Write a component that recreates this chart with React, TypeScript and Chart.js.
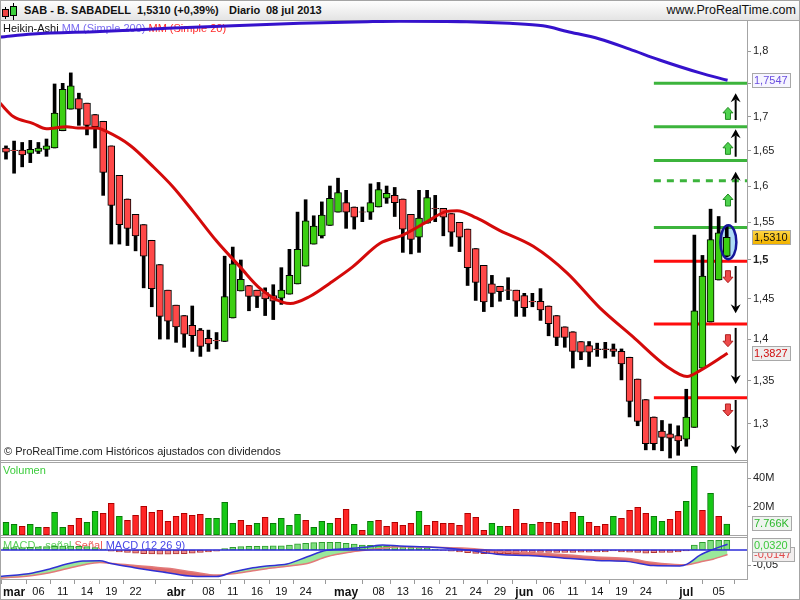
import React, { useEffect, useRef } from 'react';
import { Chart, registerables } from 'chart.js';

Chart.register(...registerables);

const FONT = '"Liberation Sans", Arial, Helvetica, sans-serif';

// ---- Heikin-Ashi candles, one per trading day (28 feb 2013 .. 08 jul 2013) ----
const haOpen = [
  1.654, 1.651, 1.651, 1.646, 1.649, 1.652, 1.654, 1.679, 1.711, 1.727,
  1.720, 1.703, 1.693, 1.657, 1.615, 1.582, 1.561, 1.547, 1.526, 1.494,
  1.461, 1.442, 1.429, 1.417, 1.411, 1.401, 1.3985, 1.397, 1.426, 1.460,
  1.467, 1.461, 1.458, 1.454, 1.451, 1.456, 1.469, 1.492, 1.521, 1.532,
  1.546, 1.564, 1.577, 1.571, 1.5645, 1.564, 1.571, 1.583, 1.587, 1.582,
  1.561, 1.530, 1.549, 1.5690, 1.569, 1.562, 1.550, 1.541, 1.515, 1.493,
  1.469, 1.466, 1.4615, 1.461, 1.454, 1.4468, 1.447, 1.441, 1.429, 1.415,
  1.409, 1.397, 1.392, 1.3880, 1.3880, 1.388, 1.385, 1.378, 1.352, 1.328,
  1.308, 1.292, 1.289, 1.287, 1.283, 1.296, 1.365, 1.421, 1.474, 1.505,
];
const haClose = [
  1.648, 1.6503, 1.644, 1.652, 1.654, 1.657, 1.705, 1.741, 1.746, 1.711,
  1.687, 1.685, 1.619, 1.573, 1.547, 1.542, 1.532, 1.505, 1.463, 1.428,
  1.422, 1.415, 1.406, 1.404, 1.391, 1.394, 1.3978, 1.453, 1.495, 1.475,
  1.453, 1.453, 1.450, 1.447, 1.461, 1.480, 1.514, 1.552, 1.545, 1.560,
  1.583, 1.591, 1.564, 1.557, 1.5638, 1.577, 1.595, 1.590, 1.577, 1.541,
  1.527, 1.556, 1.584, 1.5682, 1.557, 1.537, 1.530, 1.490, 1.471, 1.446,
  1.457, 1.459, 1.4608, 1.447, 1.439, 1.4461, 1.436, 1.419, 1.402, 1.402,
  1.385, 1.384, 1.384, 1.3872, 1.3872, 1.385, 1.370, 1.326, 1.303, 1.278,
  1.278, 1.285, 1.284, 1.281, 1.308, 1.435, 1.479, 1.527, 1.536, 1.530,
];
const haHigh = [
  1.657, 1.664, 1.662, 1.665, 1.662, 1.667, 1.749, 1.750, 1.766, 1.735,
  1.720, 1.703, 1.693, 1.657, 1.615, 1.582, 1.561, 1.547, 1.526, 1.494,
  1.461, 1.442, 1.429, 1.441, 1.413, 1.411, 1.408, 1.505, 1.517, 1.500,
  1.467, 1.461, 1.464, 1.468, 1.490, 1.514, 1.564, 1.581, 1.559, 1.578,
  1.600, 1.611, 1.594, 1.571, 1.571, 1.603, 1.605, 1.600, 1.598, 1.582,
  1.561, 1.594, 1.594, 1.587, 1.569, 1.562, 1.550, 1.541, 1.515, 1.493,
  1.480, 1.466, 1.477, 1.461, 1.457, 1.457, 1.463, 1.441, 1.429, 1.415,
  1.409, 1.397, 1.397, 1.395, 1.396, 1.394, 1.388, 1.378, 1.352, 1.328,
  1.308, 1.304, 1.300, 1.298, 1.340, 1.533, 1.506, 1.568, 1.558, 1.546,
];
const haLow = [
  1.638, 1.618, 1.627, 1.633, 1.646, 1.642, 1.654, 1.679, 1.711, 1.687,
  1.673, 1.654, 1.587, 1.521, 1.521, 1.519, 1.512, 1.464, 1.440, 1.400,
  1.400, 1.396, 1.390, 1.385, 1.379, 1.385, 1.388, 1.397, 1.426, 1.460,
  1.435, 1.439, 1.429, 1.424, 1.443, 1.456, 1.469, 1.492, 1.521, 1.529,
  1.546, 1.564, 1.542, 1.541, 1.551, 1.554, 1.571, 1.576, 1.558, 1.510,
  1.508, 1.510, 1.549, 1.551, 1.532, 1.518, 1.511, 1.467, 1.448, 1.434,
  1.440, 1.447, 1.449, 1.428, 1.428, 1.440, 1.423, 1.404, 1.392, 1.390,
  1.365, 1.375, 1.367, 1.379, 1.377, 1.379, 1.351, 1.308, 1.298, 1.271,
  1.271, 1.270, 1.262, 1.265, 1.275, 1.296, 1.365, 1.421, 1.474, 1.504,
];

// ---- Volume (millions) and its colour (1 = up day, 0 = down day) ----
const volume = [
  9.0, 7.6, 6.1, 7.6, 5.4, 5.4, 16.0, 5.4, 6.9, 11.8,
  9.0, 16.7, 15.3, 22.4, 13.2, 10.4, 13.9, 20.3, 16.0, 17.5,
  9.7, 13.2, 15.3, 13.9, 14.6, 11.8, 11.8, 23.1, 8.3, 10.4,
  6.9, 8.3, 12.5, 8.3, 11.8, 6.9, 14.6, 10.4, 5.4, 9.7,
  8.3, 11.8, 18.2, 7.6, 3.3, 9.7, 10.4, 6.1, 9.0, 6.9,
  8.3, 16.7, 6.9, 9.7, 8.3, 8.3, 6.9, 15.3, 12.5, 3.3,
  8.3, 6.1, 6.1, 18.2, 8.3, 7.6, 9.0, 9.0, 8.3, 9.7,
  16.0, 13.2, 9.0, 6.1, 7.6, 13.2, 11.8, 17.5, 19.6, 15.3,
  13.2, 9.7, 11.1, 16.7, 23.8, 48.6, 17.5, 29.5, 13.2, 7.766,
];
const volumeUp = [
  1, 1, 0, 1, 1, 0, 1, 1, 0, 0,
  1, 1, 0, 0, 1, 0, 0, 0, 0, 0,
  0, 0, 0, 0, 0, 1, 1, 1, 1, 0,
  0, 1, 0, 1, 1, 1, 1, 0, 1, 1,
  1, 0, 0, 1, 0, 1, 0, 0, 0, 0,
  0, 1, 0, 0, 0, 0, 0, 0, 0, 0,
  1, 1, 0, 0, 0, 1, 0, 0, 0, 0,
  0, 1, 0, 0, 0, 1, 0, 0, 0, 0,
  1, 1, 0, 0, 1, 1, 0, 1, 0, 1,
];

// ---- Moving averages, read at points along the curves (x = bar index) ----
const ma20Index = [-0.74, 0.9, 3.3, 5.0, 7.5, 8.9, 11.2, 12.4, 15.3, 18.1, 20.6, 23.1, 26.0, 28.9, 31.4, 35.1, 37.5, 40.0, 42.8, 46.2, 49.0, 52.0, 54.4, 55.7, 58.1, 61.0, 65.1, 69.3, 73.3, 77.4, 81.6, 84.1, 85.7, 89.1];
const ma20Value = [1.720, 1.700, 1.690, 1.682, 1.685, 1.683, 1.683, 1.678, 1.658, 1.628, 1.599, 1.565, 1.525, 1.491, 1.463, 1.444, 1.453, 1.470, 1.491, 1.522, 1.533, 1.551, 1.565, 1.566, 1.556, 1.539, 1.518, 1.483, 1.439, 1.403, 1.367, 1.355, 1.362, 1.3827];
const ma200Index = [-0.74, 3.3, 11.6, 19.9, 28.0, 36.3, 44.6, 48.6, 56.9, 62.2, 66.3, 69.3, 73.3, 77.0, 80.7, 85.7, 89.1];
const ma200Value = [1.822, 1.827, 1.831, 1.836, 1.840, 1.844, 1.8467, 1.8475, 1.8467, 1.844, 1.840, 1.831, 1.819, 1.803, 1.786, 1.766, 1.7547];

// ---- MACD (12 26 9) ----
const macdIndex = [-0.74, 3.3, 5.4, 7.5, 9.5, 11.6, 12.8, 15.7, 19.9, 23.1, 26.0, 28.0, 30.5, 32.2, 34.7, 37.2, 39.6, 42.5, 44.6, 46.5, 48.6, 52.7, 56.9, 61.0, 64.5, 68.7, 72.9, 76.9, 79.9, 83.2, 84.1, 85.7, 87.3, 89.1];
const macdLine = [-0.087, -0.075, -0.062, -0.046, -0.036, -0.035, -0.043, -0.057, -0.074, -0.086, -0.087, -0.072, -0.058, -0.052, -0.046, -0.022, -0.001, 0.005, 0.010, 0.016, 0.013, 0.009, 0.000, -0.015, -0.018, -0.026, -0.034, -0.038, -0.051, -0.052, -0.046, -0.017, 0.002, 0.019];
const signalLine = [-0.092, -0.083, -0.074, -0.061, -0.049, -0.041, -0.043, -0.050, -0.060, -0.072, -0.082, -0.078, -0.068, -0.061, -0.053, -0.044, -0.022, -0.007, 0.000, 0.006, 0.011, 0.009, 0.006, -0.004, -0.009, -0.015, -0.023, -0.028, -0.041, -0.048, -0.048, -0.039, -0.030, -0.0147];
const macdHist = [
  0.008, 0.008, 0.008, 0.009, 0.010, 0.011, 0.012, 0.013, 0.013, 0.012,
  0.011, 0.008, 0.003, -0.004, -0.006, -0.008, -0.010, -0.012, -0.013, -0.014,
  -0.014, -0.013, -0.012, -0.010, -0.008, -0.006, -0.004, 0.005, 0.009, 0.011,
  0.012, 0.012, 0.013, 0.014, 0.014, 0.016, 0.020, 0.022, 0.024, 0.025,
  0.025, 0.025, 0.022, 0.019, 0.016, 0.015, 0.013, 0.013, 0.012, 0.010,
  0.009, 0.008, 0.006, 0.003, -0.001, -0.004, -0.006, -0.009, -0.011, -0.012,
  -0.012, -0.012, -0.012, -0.011, -0.009, -0.009, -0.008, -0.008, -0.008, -0.008,
  -0.008, -0.007, -0.007, -0.006, -0.006, -0.003, -0.006, -0.007, -0.008, -0.010,
  -0.009, -0.008, -0.008, -0.006, -0.003, 0.016, 0.025, 0.032, 0.032, 0.032,
];

// ---- Drawn objects on the price panel (price units) ----
const levelValues = [1.75, 1.685, 1.636, 1.6075, 1.543, 1.4985, 1.4186, 1.33];
const levelKinds = ['up', 'up', 'up', 'upDash', 'up', 'down', 'down', 'down'];
const levelStartIndex = 80.0;
const arrowFrom = [1.5495, 1.6414, 1.6949, 1.4921, 1.4137, 1.3275];
const arrowTo = [1.6202, 1.6812, 1.7348, 1.4318, 1.3461, 1.2665];
const upSignals = [1.7047, 1.6535, 1.5806];
const downSignals = [1.4783, 1.3980, 1.3160];
const lastPrice = 1.531;

// ---- Axes ----
const priceTicks = [1.3, 1.35, 1.4, 1.45, 1.5, 1.55, 1.6, 1.65, 1.7, 1.75, 1.8];
const volumeTicks = [20, 40];
const macdTicks = [-0.05];
const xTickIndex = [1, 4, 7, 10, 13, 16, 21, 25, 28, 31, 34, 37, 42, 46, 49, 52, 55, 58, 61, 64, 67, 70, 73, 76, 79, 84, 88];
const xTickLabel = ['mar', '06', '11', '14', '19', '22', 'abr', '08', '11', '16', '19', '24', 'may', '08', '13', '16', '21', '24', '29', 'jun', '06', '11', '14', '19', '24', 'jul', '05'];
const monthLabels = ['mar', 'abr', 'may', 'jun', 'jul'];

const title = { ticker: 'SAB - B. SABADELL', quote: '1,5310 (+0,39%)', period: 'Diario', date: '08 jul 2013', site: 'www.ProRealTime.com' };

const comma = (v: number, d?: number) => (d === undefined ? String(v) : v.toFixed(d)).replace('.', ',');

function blockArrow(ctx: any, x: number, y: number, up: boolean, fill: string, stroke: string) {
  const d = up ? -1 : 1;
  ctx.beginPath();
  ctx.moveTo(x, y + d * 6);
  ctx.lineTo(x + 5, y + d * 0.5);
  ctx.lineTo(x + 2.5, y + d * 0.5);
  ctx.lineTo(x + 2.5, y - d * 6);
  ctx.lineTo(x - 2.5, y - d * 6);
  ctx.lineTo(x - 2.5, y + d * 0.5);
  ctx.lineTo(x - 5, y + d * 0.5);
  ctx.closePath();
  ctx.fillStyle = fill;
  ctx.fill();
  ctx.strokeStyle = stroke;
  ctx.lineWidth = 1;
  ctx.stroke();
}

function valueBox(ctx: any, x: number, y: number, text: string, bg: any, fg: string) {
  ctx.font = `11px ${FONT}`;
  const w = Math.max(36, Math.ceil(ctx.measureText(text).width) + 4);
  const h = 14;
  const top = Math.round(y - h / 2);
  ctx.fillStyle = bg;
  ctx.fillRect(x, top, w, h);
  ctx.strokeStyle = '#a8a8a8';
  ctx.lineWidth = 1;
  ctx.strokeRect(x + 0.5, top + 0.5, w, h);
  ctx.fillStyle = fg;
  ctx.textAlign = 'left';
  ctx.textBaseline = 'middle';
  ctx.fillText(text, x + 2, top + h / 2 + 0.5);
}

const decorPlugin = {
  id: 'decor',
  beforeDatasetsDraw(chart: any) {
    const { ctx, scales } = chart;
    const { x, yP, yV, yM } = scales;
    ctx.save();
    // highlight ellipse fill (last candle)
    const n = haOpen.length - 1;
    const ex = x.getPixelForValue(n + 0.2);
    const ey = yP.getPixelForValue((haOpen[n] + haClose[n]) / 2 + 0.006);
    ctx.beginPath();
    ctx.ellipse(ex, ey, 8, 17, 0, 0, Math.PI * 2);
    ctx.fillStyle = 'rgba(165,215,245,0.9)';
    ctx.fill();

    ctx.textBaseline = 'middle';
    ctx.textAlign = 'left';
    ctx.font = `11px ${FONT}`;
    const parts: [string, string][] = [['Heikin-Ashi ', '#111'], ['MM (Simple 200) ', '#7a6cf0'], ['MM (Simple 20)', '#ff2a2a']];
    let tx = 3;
    for (const [t, c] of parts) { ctx.fillStyle = c; ctx.fillText(t, tx, yP.top + 8.5); tx += ctx.measureText(t).width; }
    ctx.fillStyle = '#222';
    ctx.fillText('\u00a9 ProRealTime.com Hist\u00f3ricos ajustados con dividendos', 4, yP.bottom - 9);
    ctx.fillStyle = '#3ccc3c';
    ctx.fillText('Volumen', 3, yV.top + 9.5);
    const mparts: [string, string][] = [['MACD - se\u00f1al ', '#5ad05a'], ['Se\u00f1al ', '#ee5555'], ['MACD (12 26 9)', '#4848e8']];
    tx = 3;
    for (const [t, c] of mparts) { ctx.fillStyle = c; ctx.fillText(t, tx, yM.top + 9.5); tx += ctx.measureText(t).width; }
    ctx.restore();
  },
  afterDatasetsDraw(chart: any) {
    const { ctx, scales } = chart;
    const { x, yP } = scales;
    ctx.save();
    const n = haOpen.length - 1;
    // ellipse outline
    const ex = x.getPixelForValue(n + 0.2);
    const ey = yP.getPixelForValue((haOpen[n] + haClose[n]) / 2 + 0.006);
    ctx.beginPath();
    ctx.ellipse(ex, ey, 8, 17, 0, 0, Math.PI * 2);
    ctx.strokeStyle = '#16169a';
    ctx.lineWidth = 2.5;
    ctx.stroke();
    // black target arrows
    const ax = x.getPixelForValue(n + 1.1);
    for (let k = 0; k < arrowFrom.length; k++) {
      const y1 = yP.getPixelForValue(arrowFrom[k]);
      const y2 = yP.getPixelForValue(arrowTo[k]);
      const d = y2 < y1 ? -1 : 1;
      ctx.strokeStyle = '#000';
      ctx.lineWidth = 2;
      ctx.beginPath();
      ctx.moveTo(ax, y1);
      ctx.lineTo(ax, y2 - d * 6);
      ctx.stroke();
      ctx.fillStyle = '#000';
      ctx.beginPath();
      ctx.moveTo(ax, y2);
      ctx.lineTo(ax - 5, y2 - d * 9);
      ctx.lineTo(ax, y2 - d * 6);
      ctx.lineTo(ax + 5, y2 - d * 9);
      ctx.closePath();
      ctx.fill();
    }
    const bx = x.getPixelForValue(n + 0.15);
    upSignals.forEach((v) => blockArrow(ctx, bx, yP.getPixelForValue(v), true, '#4fd24f', '#1f8a1f'));
    downSignals.forEach((v) => blockArrow(ctx, bx, yP.getPixelForValue(v), false, '#ee4a4a', '#b02020'));
    ctx.restore();
  },
  afterDraw(chart: any) {
    const { ctx, scales } = chart;
    const { x, yP, yV, yM } = scales;
    ctx.save();
    ctx.strokeStyle = '#a4a4a4';
    ctx.lineWidth = 1;
    const L = 0.5;
    const R = Math.round(x.right) + 0.5;
    const line = (x1: number, y1: number, x2: number, y2: number) => { ctx.beginPath(); ctx.moveTo(x1, y1); ctx.lineTo(x2, y2); ctx.stroke(); };
    const pb = Math.round(yP.bottom) - 0.5;
    const vt = Math.round(yV.top) + 1.5;
    const vb = Math.round(yV.bottom) - 0.5;
    const mt = Math.round(yM.top) + 1.5;
    line(L, pb, R, pb);
    line(L, vt, R, vt);
    line(L, vb, R, vb);
    line(L, mt, R, mt);
    line(R, yP.top, R, yM.bottom);
    // value boxes on the right axis
    const bxp = Math.round(x.right) + 5;
    const n = haOpen.length - 1;
    valueBox(ctx, bxp, yP.getPixelForValue(ma200Value[ma200Value.length - 1]), comma(ma200Value[ma200Value.length - 1], 4), '#f6f5ff', '#6a4ee0');
    const yl = yP.getPixelForValue(lastPrice);
    const g = ctx.createLinearGradient(0, yl - 7, 0, yl + 7);
    g.addColorStop(0, '#ffd84a');
    g.addColorStop(1, '#f2b400');
    valueBox(ctx, bxp, yl, comma(lastPrice, 4), g, '#111');
    valueBox(ctx, bxp, yP.getPixelForValue(ma20Value[ma20Value.length - 1]), comma(ma20Value[ma20Value.length - 1], 4), '#eeeeee', '#d01010');
    const lastVolK = Math.round(volume[n] * 1000);
    valueBox(ctx, bxp, yV.getPixelForValue(volume[n]) - 1, `${Math.floor(lastVolK / 1000)}.${String(lastVolK % 1000).padStart(3, '0')}K`, '#eef4ee', '#2cb82c');
    valueBox(ctx, bxp, Math.max(yM.getPixelForValue(signalLine[signalLine.length - 1]), yM.top + 18), comma(signalLine[signalLine.length - 1], 4), '#f2eeee', '#e04848');
    valueBox(ctx, bxp, Math.max(yM.getPixelForValue(macdHist[n]), yM.top + 9), comma(macdHist[n], 4), '#eef4ee', '#3cc83c');
    ctx.restore();
  },
};

const noPad = (s: any) => { s.paddingTop = 0; s.paddingBottom = 0; s.paddingLeft = 0; s.paddingRight = 0; };

export default function App() {
  const ref = useRef<HTMLCanvasElement>(null);

  useEffect(() => {
    const canvas = ref.current!;
    const idx = haOpen.map((_, i) => i);
    const datasets: any[] = [];

    levelValues.forEach((v, k) => {
      datasets.push({
        type: 'line', yAxisID: 'yP', order: 20,
        data: [{ x: levelStartIndex, y: v }, { x: 93, y: v }],
        borderColor: levelKinds[k] === 'down' ? '#ff0d0d' : '#3cb43c',
        borderWidth: 3, borderDash: levelKinds[k] === 'upDash' ? [7, 6] : [],
        pointRadius: 0, fill: false,
      });
    });
    datasets.push({
      type: 'bar', yAxisID: 'yP', order: 15, grouped: false,
      data: idx.map((i) => ({ x: i, y: [haLow[i], haHigh[i]] })),
      backgroundColor: '#000', borderWidth: 0, barThickness: 3,
    });
    datasets.push({
      type: 'bar', yAxisID: 'yP', order: 14, grouped: false,
      data: idx.map((i) => ({ x: i, y: [haOpen[i], haClose[i]] })),
      backgroundColor: idx.map((i) => (haClose[i] >= haOpen[i] ? '#3ccf12' : '#ff4848')),
      borderColor: '#000', borderWidth: 1, borderSkipped: false, barThickness: 7,
    });
    datasets.push({
      type: 'line', yAxisID: 'yP', order: 5,
      data: ma200Index.map((x, k) => ({ x, y: ma200Value[k] })),
      borderColor: '#3512cc', borderWidth: 3, pointRadius: 0, fill: false, cubicInterpolationMode: 'monotone',
    });
    datasets.push({
      type: 'line', yAxisID: 'yP', order: 4,
      data: ma20Index.map((x, k) => ({ x, y: ma20Value[k] })),
      borderColor: '#d40a0a', borderWidth: 3, pointRadius: 0, fill: false, cubicInterpolationMode: 'monotone',
    });
    datasets.push({
      type: 'bar', yAxisID: 'yV', order: 10, grouped: false,
      data: idx.map((i) => ({ x: i, y: volume[i] })),
      backgroundColor: idx.map((i) => (volumeUp[i] ? '#16c816' : '#ff2626')),
      borderColor: idx.map((i) => (volumeUp[i] ? '#087a08' : '#b00000')),
      borderWidth: 1, borderSkipped: false, barThickness: 6,
    });
    datasets.push({
      type: 'bar', yAxisID: 'yM', order: 10, grouped: false,
      data: idx.map((i) => ({ x: i, y: macdHist[i] })),
      backgroundColor: idx.map((i) => (macdHist[i] >= 0 ? '#7ede7e' : '#ec8c8c')),
      borderColor: idx.map((i) => (macdHist[i] >= 0 ? '#2e9e2e' : '#b03434')),
      borderWidth: 1, borderSkipped: false, barThickness: 6,
    });
    const sigIndex = datasets.length;
    datasets.push({
      type: 'line', yAxisID: 'yM', order: 3,
      data: macdIndex.map((x, k) => ({ x, y: signalLine[k] })),
      borderColor: '#e27a7a', borderWidth: 1.5, pointRadius: 0, fill: false, cubicInterpolationMode: 'monotone',
    });
    datasets.push({
      type: 'line', yAxisID: 'yM', order: 2,
      data: macdIndex.map((x, k) => ({ x, y: macdLine[k] })),
      borderColor: '#3030d4', borderWidth: 1.5, pointRadius: 0, cubicInterpolationMode: 'monotone',
      fill: { target: sigIndex, above: '#9ae89a', below: '#de6a6a' },
    });
    datasets.push({
      type: 'line', yAxisID: 'yM', order: 1,
      data: [{ x: -2, y: 0 }, { x: 93, y: 0 }],
      borderColor: '#2b2bd8', borderWidth: 1.5, pointRadius: 0, fill: false,
    });

    const yCommon = {
      position: 'right', stack: 'panels',
      afterFit: (s: any) => { s.width = 53; noPad(s); },
      grid: { drawOnChartArea: false, drawTicks: true, tickLength: 4, color: '#999' },
      border: { display: true, color: '#a4a4a4' },
    };

    const chart = new Chart(canvas, {
      type: 'bar',
      data: { datasets },
      options: {
        animation: false,
        responsive: false,
        maintainAspectRatio: false,
        devicePixelRatio: 1,
        events: [],
        layout: { padding: 0, autoPadding: false },
        plugins: {
          legend: { display: false },
          tooltip: { enabled: false },
          title: { display: false },
          filler: { drawTime: 'beforeDatasetsDraw' },
        },
        scales: {
          x: {
            type: 'linear', min: -0.74, max: 91.5, offset: false,
            afterBuildTicks: (s: any) => { s.ticks = xTickIndex.map((v) => ({ value: v })); },
            afterFit: (s: any) => { s.height = 21; noPad(s); },
            ticks: {
              autoSkip: false, maxRotation: 0, minRotation: 0, padding: 1, color: '#111',
              callback: (v: any) => { const k = xTickIndex.indexOf(v); return k >= 0 ? xTickLabel[k] : ''; },
              font: (c: any) => {
                const k = c.tick ? xTickIndex.indexOf(c.tick.value) : -1;
                return k >= 0 && monthLabels.includes(xTickLabel[k]) ? { family: FONT, size: 12, weight: 'bold' } : { family: FONT, size: 11 };
              },
            },
            grid: { drawOnChartArea: false, drawTicks: true, tickLength: 5, color: '#999' },
            border: { display: true, color: '#a4a4a4' },
          },
          yP: {
            ...yCommon, type: 'logarithmic', stackWeight: 441, min: 1.2587, max: 1.8494,
            afterBuildTicks: (s: any) => { s.ticks = priceTicks.map((v) => ({ value: v })); },
            ticks: {
              autoSkip: false, padding: 2, color: '#222',
              callback: (v: any) => comma(v),
              font: (c: any) => ({ family: FONT, size: 11, weight: c.tick && c.tick.value === 1.5 ? 'bold' : 'normal' }),
            },
          },
          yV: {
            ...yCommon, type: 'linear', stackWeight: 75, min: -0.707, max: 52.3,
            afterBuildTicks: (s: any) => { s.ticks = volumeTicks.map((v) => ({ value: v })); },
            ticks: { autoSkip: false, padding: 2, color: '#222', font: { family: FONT, size: 11 }, callback: (v: any) => `${v}M` },
          },
          yM: {
            ...yCommon, type: 'linear', stackWeight: 43, min: -0.09477, max: 0.04575,
            afterBuildTicks: (s: any) => { s.ticks = macdTicks.map((v) => ({ value: v })); },
            ticks: { autoSkip: false, padding: 2, color: '#222', font: { family: FONT, size: 11 }, callback: (v: any) => comma(v) },
          },
        },
      } as any,
      plugins: [decorPlugin as any],
    });
    return () => chart.destroy();
  }, []);

  const span = (left: number, text: string, bold = true) => (
    <span style={{ position: 'absolute', left, top: 4, fontSize: 11, lineHeight: '13px', fontWeight: bold ? 'bold' : 'normal', color: '#111', whiteSpace: 'nowrap' }}>{text}</span>
  );

  return (
    <div style={{ position: 'absolute', left: 0, top: 0, width: 800, height: 600, background: '#fff', fontFamily: FONT, overflow: 'hidden' }}>
      <div style={{ position: 'absolute', left: 0, top: 0, width: 800, height: 21, boxSizing: 'border-box', borderBottom: '1px solid #a4a4a4', background: 'linear-gradient(#ffffff, #e4e4e4)' }}>
        <div style={{ position: 'absolute', left: 5, top: 7, width: 1, height: 12, background: '#000' }} />
        <div style={{ position: 'absolute', left: 2, top: 9, width: 7, height: 8, boxSizing: 'border-box', border: '1px solid #000', background: '#ee4444' }} />
        <div style={{ position: 'absolute', left: 13, top: 3, width: 1, height: 17, background: '#000' }} />
        <div style={{ position: 'absolute', left: 10, top: 6, width: 7, height: 10, boxSizing: 'border-box', border: '1px solid #000', background: '#3ccf3c' }} />
        {span(24, title.ticker)}
        {span(137, title.quote)}
        {span(229, title.period)}
        {span(266, title.date)}
        <span style={{ position: 'absolute', right: 4, top: 3, fontSize: 12.5, lineHeight: '14px', color: '#111', whiteSpace: 'nowrap' }}>{title.site}</span>
      </div>
      <canvas ref={ref} width={800} height={580} style={{ position: 'absolute', left: 0, top: 20, width: 800, height: 580 }} />
      <div style={{ position: 'absolute', left: 0, top: 0, width: 800, height: 600, boxSizing: 'border-box', border: '1px solid #a4a4a4', pointerEvents: 'none' }} />
    </div>
  );
}
